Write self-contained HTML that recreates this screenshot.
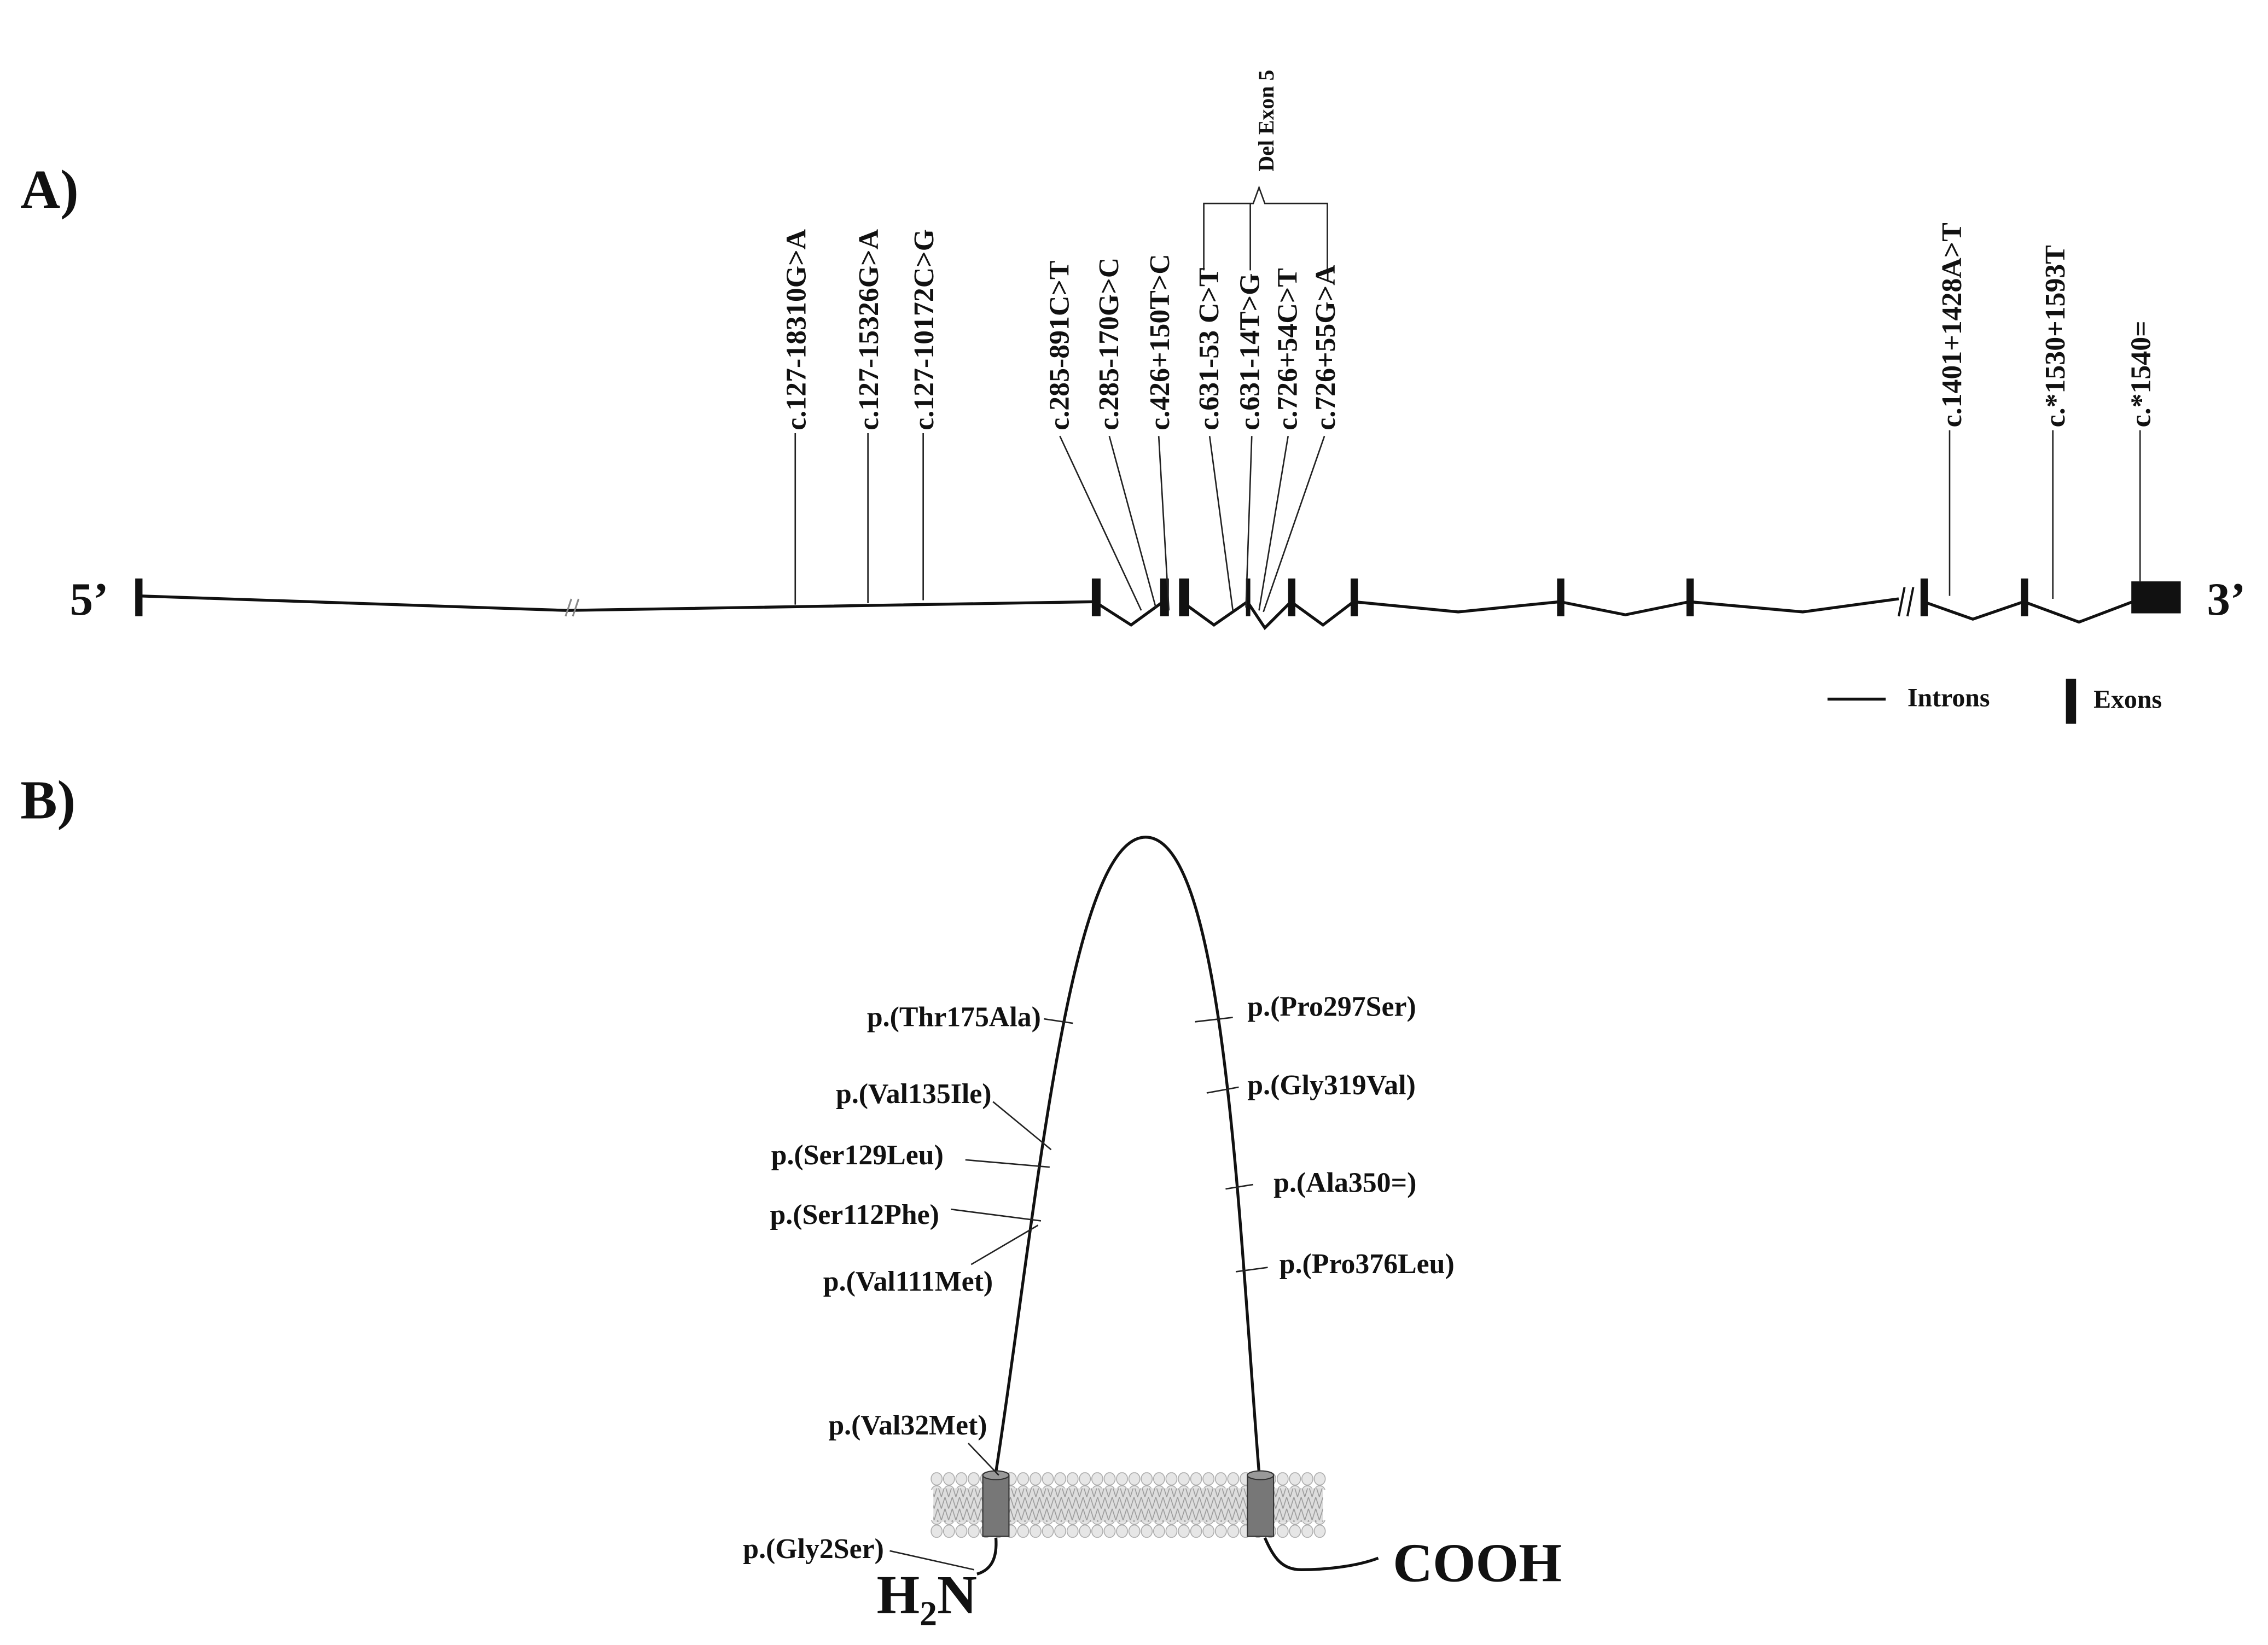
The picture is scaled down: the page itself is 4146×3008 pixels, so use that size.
<!DOCTYPE html>
<html><head><meta charset="utf-8"><style>
html,body{margin:0;padding:0;background:#fff;}
svg{display:block;}
text{font-family:"Liberation Serif",serif;font-weight:bold;fill:#111;}
</style></head><body>
<svg width="4146" height="3008" viewBox="0 0 1560 1131.8" xmlns="http://www.w3.org/2000/svg">
<defs>
<pattern id="heads" x="640" y="1013" width="8.5" height="9" patternUnits="userSpaceOnUse">
<ellipse cx="4.25" cy="4.5" rx="3.8" ry="4.3" fill="#e6e6e6" stroke="#aaa" stroke-width="0.6"/>
</pattern>
<pattern id="tails" x="640" y="1022" width="5" height="8" patternUnits="userSpaceOnUse">
<path d="M0,0 L2.5,8 L5,0" fill="none" stroke="#999" stroke-width="0.6"/>
</pattern>
</defs>
<rect width="1560" height="1132" fill="#fff"/>
<text x="14" y="143" font-size="38">A)</text>
<text x="14" y="563" font-size="38">B)</text>

<g stroke="#111" stroke-width="2" fill="none">
<polyline points="95,410 390,420 753,414"/>
<polyline points="753,414 778,430 800,414"/>
<polyline points="813,414 835,430 858,414"/>
<polyline points="858,414 870,432 888,414"/>
<polyline points="888,414 910,430 931,414"/>
<polyline points="931,414 1003,421 1073,414"/>
<polyline points="1073,414 1118,423 1162,414"/>
<polyline points="1162,414 1240,421 1306,412"/>
<polyline points="1323,414 1357,426 1392,414"/>
<polyline points="1392,414 1430,428 1467,414"/>
</g>
<g stroke="#888" stroke-width="1.2"><line x1="389" y1="424" x2="393" y2="412"/><line x1="394" y1="424" x2="398" y2="412"/></g>
<g stroke="#111" stroke-width="1.5"><line x1="1306" y1="424" x2="1310" y2="404"/><line x1="1312" y1="424" x2="1316" y2="404"/></g>
<g fill="#111">
<rect x="93" y="398" width="5" height="26"/>
<rect x="751" y="398" width="6" height="26"/>
<rect x="798" y="398" width="6" height="26"/>
<rect x="811" y="398" width="7" height="26"/>
<rect x="857" y="398" width="3" height="26"/>
<rect x="886" y="398" width="5" height="26"/>
<rect x="929" y="398" width="5" height="26"/>
<rect x="1071" y="398" width="5" height="26"/>
<rect x="1160" y="398" width="5" height="26"/>
<rect x="1321" y="398" width="5" height="26"/>
<rect x="1390" y="398" width="5" height="26"/>
<rect x="1466" y="400" width="34" height="22"/>
</g>
<text x="48" y="423" font-size="32">5’</text>
<text x="1518" y="423" font-size="32">3’</text>

<g stroke="#222" stroke-width="1" fill="none">
<line x1="547" y1="298" x2="547" y2="416"/>
<line x1="597" y1="298" x2="597" y2="415"/>
<line x1="635" y1="298" x2="635" y2="413"/>
<line x1="729" y1="300" x2="785" y2="420"/>
<line x1="763" y1="300" x2="795" y2="418"/>
<line x1="797" y1="300" x2="804" y2="420"/>
<line x1="832" y1="300" x2="848" y2="420"/>
<line x1="861" y1="300" x2="857" y2="418"/>
<line x1="886" y1="300" x2="866" y2="420"/>
<line x1="911" y1="300" x2="869" y2="421"/>
<line x1="1341" y1="296" x2="1341" y2="410"/>
<line x1="1412" y1="296" x2="1412" y2="412"/>
<line x1="1472" y1="296" x2="1472" y2="400"/>
<path d="M828,186 V140 H862 L866,129 L870,140 H913 V186"/>
<line x1="860" y1="140" x2="860" y2="186"/>
</g>
<g font-size="19.5">
<text transform="translate(554,296) rotate(-90)">c.127-18310G&gt;A</text>
<text transform="translate(604,296) rotate(-90)">c.127-15326G&gt;A</text>
<text transform="translate(642,296) rotate(-90)">c.127-10172C&gt;G</text>
<text transform="translate(735,296) rotate(-90)">c.285-891C&gt;T</text>
<text transform="translate(769,296) rotate(-90)">c.285-170G&gt;C</text>
<text transform="translate(804,296) rotate(-90)">c.426+150T&gt;C</text>
<text transform="translate(838,296) rotate(-90)">c.631-53 C&gt;T</text>
<text transform="translate(866,296) rotate(-90)">c.631-14T&gt;G</text>
<text transform="translate(892,296) rotate(-90)">c.726+54C&gt;T</text>
<text transform="translate(918,296) rotate(-90)">c.726+55G&gt;A</text>
<text transform="translate(1349,294) rotate(-90)">c.1401+1428A&gt;T</text>
<text transform="translate(1420,294) rotate(-90)">c.*1530+1593T</text>
<text transform="translate(1479,294) rotate(-90)">c.*1540=</text>
<text transform="translate(876,118) rotate(-90)" font-size="15">Del Exon 5</text>
</g>

<line x1="1257" y1="481" x2="1297" y2="481" stroke="#111" stroke-width="2"/>
<text x="1312" y="486" font-size="18">Introns</text>
<rect x="1421" y="467" width="7" height="31" fill="#111"/>
<text x="1440" y="487" font-size="18">Exons</text>

<rect x="640" y="1013" width="272" height="12" fill="url(#heads)"/>
<rect x="640" y="1046" width="272" height="12" fill="url(#heads)"/>
<rect x="642" y="1024" width="268" height="23" fill="#ddd"/>
<rect x="642" y="1024" width="268" height="23" fill="url(#tails)"/>
<path d="M685,1013 C712,840 735,576 788,576 C842,576 852,840 866,1013" fill="none" stroke="#111" stroke-width="2"/>
<rect x="676" y="1015" width="18" height="42" fill="#777" stroke="#333" stroke-width="0.8"/>
<ellipse cx="685" cy="1015" rx="9" ry="3" fill="#999" stroke="#333" stroke-width="0.8"/>
<rect x="858" y="1015" width="18" height="42" fill="#777" stroke="#333" stroke-width="0.8"/>
<ellipse cx="867" cy="1015" rx="9" ry="3" fill="#999" stroke="#333" stroke-width="0.8"/>
<path d="M685,1058 C686,1072 682,1080 672,1083" fill="none" stroke="#111" stroke-width="2"/>
<path d="M870,1058 C876,1072 882,1080 895,1080 C915,1080 935,1077 948,1072" fill="none" stroke="#111" stroke-width="2"/>
<text x="603" y="1110" font-size="38">H<tspan font-size="24" dy="8">2</tspan><tspan dy="-8">N</tspan></text>
<text x="958" y="1088" font-size="38">COOH</text>

<g stroke="#222" stroke-width="1">
<line x1="718" y1="701" x2="738" y2="704"/>
<line x1="683" y1="758" x2="723" y2="791"/>
<line x1="664" y1="798" x2="722" y2="803"/>
<line x1="654" y1="832" x2="716" y2="840"/>
<line x1="668" y1="870" x2="714" y2="843"/>
<line x1="666" y1="993" x2="687" y2="1015"/>
<line x1="612" y1="1067" x2="670" y2="1080"/>
<line x1="822" y1="703" x2="848" y2="700"/>
<line x1="830" y1="752" x2="852" y2="748"/>
<line x1="843" y1="818" x2="862" y2="815"/>
<line x1="850" y1="875" x2="872" y2="872"/>
</g>
<g font-size="19.5">
<text x="716" y="706" text-anchor="end">p.(Thr175Ala)</text>
<text x="682" y="759" text-anchor="end">p.(Val135Ile)</text>
<text x="649" y="801" text-anchor="end">p.(Ser129Leu)</text>
<text x="646" y="842" text-anchor="end">p.(Ser112Phe)</text>
<text x="683" y="888" text-anchor="end">p.(Val111Met)</text>
<text x="679" y="987" text-anchor="end">p.(Val32Met)</text>
<text x="608" y="1072" text-anchor="end">p.(Gly2Ser)</text>
<text x="858" y="699">p.(Pro297Ser)</text>
<text x="858" y="753">p.(Gly319Val)</text>
<text x="876" y="820">p.(Ala350=)</text>
<text x="880" y="876">p.(Pro376Leu)</text>
</g>
</svg>
</body></html>
